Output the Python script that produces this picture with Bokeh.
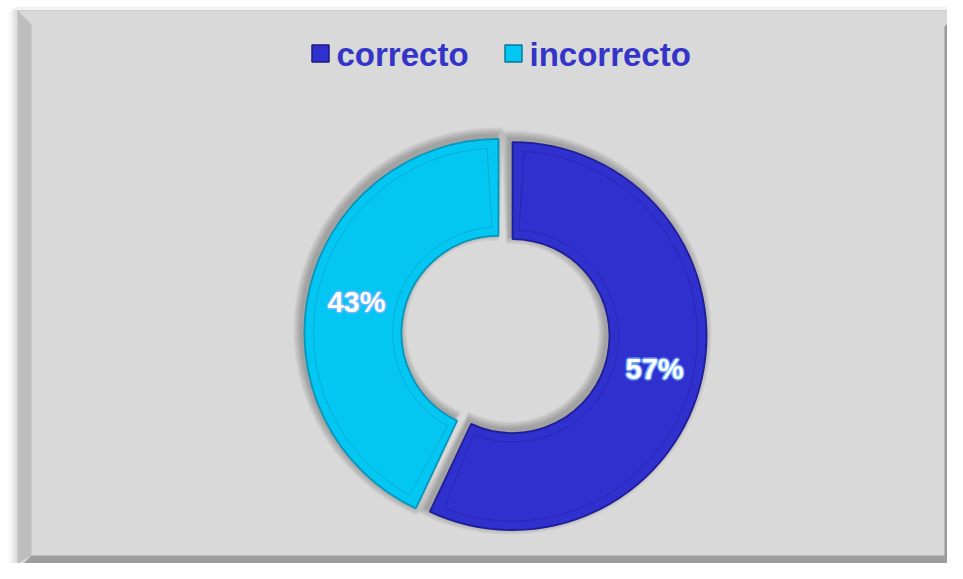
import math
from bokeh.plotting import figure
from bokeh.models import Range1d
from bokeh.core.properties import value
from bokeh.embed import file_html
from bokeh.resources import INLINE

# ---- data ----
categories = ["correcto", "incorrecto"]
percentages = [57, 43]
slice_colors = ["#3030CE", "#04C6F2"]
edge_colors = ["#1E1E96", "#0796BA"]
label_texts = ["57%", "43%"]

# ---- canvas (1 data unit = 1 px, y negated) ----
W, H = 947, 563
p = figure(width=W, height=H, x_range=Range1d(0, W), y_range=Range1d(-H, 0),
           output_backend="svg", toolbar_location=None, min_border=0,
           x_axis_location=None, y_axis_location=None,
           outline_line_color=None, background_fill_color="white", border_fill_color="white")
p.grid.visible = False

def Y(y):
    return -y

# panel shadow on the left / top
for i, c in enumerate(["#f8f8f8", "#f0f0f0", "#e6e6e6"]):
    p.quad(left=8 + 2.3 * i, right=15, top=Y(12 - 2 * i), bottom=Y(H), fill_color=c, line_color=None)
p.quad(left=15, right=W, top=Y(6), bottom=Y(10), fill_color="#f3f3f3", line_color=None)
# frame face
p.quad(left=15, right=W, top=Y(10), bottom=Y(H), fill_color="#D9D9D9", line_color=None)
p.quad(left=15, right=W, top=Y(9.5), bottom=Y(10.8), fill_color="#cdcdcd", line_color=None)
p.quad(left=15, right=17, top=Y(10), bottom=Y(H), fill_color="#dedede", line_color=None)
# left bevel
p.patch(x=[17, 31, 31, 17], y=[Y(10), Y(24), Y(555), Y(H)], fill_color="#BEBEBE", line_color=None)
# bottom bevel (dark)
p.patch(x=[23, 31, W, W], y=[Y(H), Y(555), Y(555), Y(H)], fill_color="#9D9D9D", line_color=None)
# right bevel (dark)
p.patch(x=[944, W, W, 944], y=[Y(26), Y(23), Y(H), Y(555)], fill_color="#999999", line_color=None)

# ---- donut ----
cx, cy = 505, Y(334)
R_out, R_in = 194, 97
explode = 7.2

total = float(sum(percentages))
cum = 0.0
geo = []
for i, v in enumerate(percentages):
    t0 = cum / total
    t1 = (cum + v) / total
    cum += v
    start = math.pi / 2 - 2 * math.pi * t1
    end = math.pi / 2 - 2 * math.pi * t0
    mid = (start + end) / 2
    ox = cx + explode * math.cos(mid)
    oy = cy + explode * math.sin(mid)
    geo.append((start, end, mid, ox, oy))

# shadows (up-left, blurred)
for i, (start, end, mid, ox, oy) in enumerate(geo):
    for k in range(1, 6):
        e = 1.6 * k
        da = e / R_out
        p.annular_wedge(x=ox - 3, y=oy + 3.5, inner_radius=R_in - e, outer_radius=R_out + e,
                        start_angle=start - da, end_angle=end + da,
                        fill_color="black", fill_alpha=0.055, line_color=None)

# slices
for i, (start, end, mid, ox, oy) in enumerate(geo):
    p.annular_wedge(x=ox, y=oy, inner_radius=R_in, outer_radius=R_out,
                    start_angle=start, end_angle=end,
                    fill_color=slice_colors[i], line_color=edge_colors[i], line_width=1.8)
    # inner bevel line
    inset = 9
    rm = (R_in + R_out) / 2
    da = inset / rm
    p.annular_wedge(x=ox, y=oy, inner_radius=R_in + inset, outer_radius=R_out - inset,
                    start_angle=start + da, end_angle=end - da,
                    fill_color=None, line_color=edge_colors[i], line_alpha=0.5, line_width=1)

# data labels
lab_r = (R_in + R_out) / 2
for i, (start, end, mid, ox, oy) in enumerate(geo):
    lx = ox + lab_r * math.cos(mid)
    ly = oy + lab_r * math.sin(mid) - 1
    for dx, dy in [(-1.8, 0), (1.8, 0), (0, -1.8), (0, 1.8), (-1.3, -1.3), (1.3, 1.3), (-1.3, 1.3), (1.3, -1.3)]:
        p.text(x=[lx + dx], y=[ly + dy], text=[label_texts[i]], text_font=value("Liberation Sans"),
               text_font_style="bold", text_font_size="29px", text_color="#7ab8ff", text_alpha=0.5,
               text_align="center", text_baseline="alphabetic")
    p.text(x=[lx], y=[ly], text=[label_texts[i]], text_font=value("Liberation Sans"),
           text_font_style="bold", text_font_size="29px", text_color="white",
           text_align="center", text_baseline="alphabetic")

# ---- legend ----
legend_sq_x = [320, 513]
legend_y = 53
legend_border = ["#1A1A7A", "#08799A"]
for i, cat in enumerate(categories):
    p.rect(x=legend_sq_x[i], y=Y(legend_y), width=17, height=17, fill_color=slice_colors[i],
           line_color=legend_border[i], line_width=1.5)
    p.text(x=[legend_sq_x[i] + 16], y=[Y(53.5)], text=[cat], text_font=value("Liberation Sans"),
           text_font_style="bold", text_font_size="33px", text_color="#3434C8",
           text_align="left", text_baseline="alphabetic")

open("out.html", "w").write(file_html(p, INLINE))
